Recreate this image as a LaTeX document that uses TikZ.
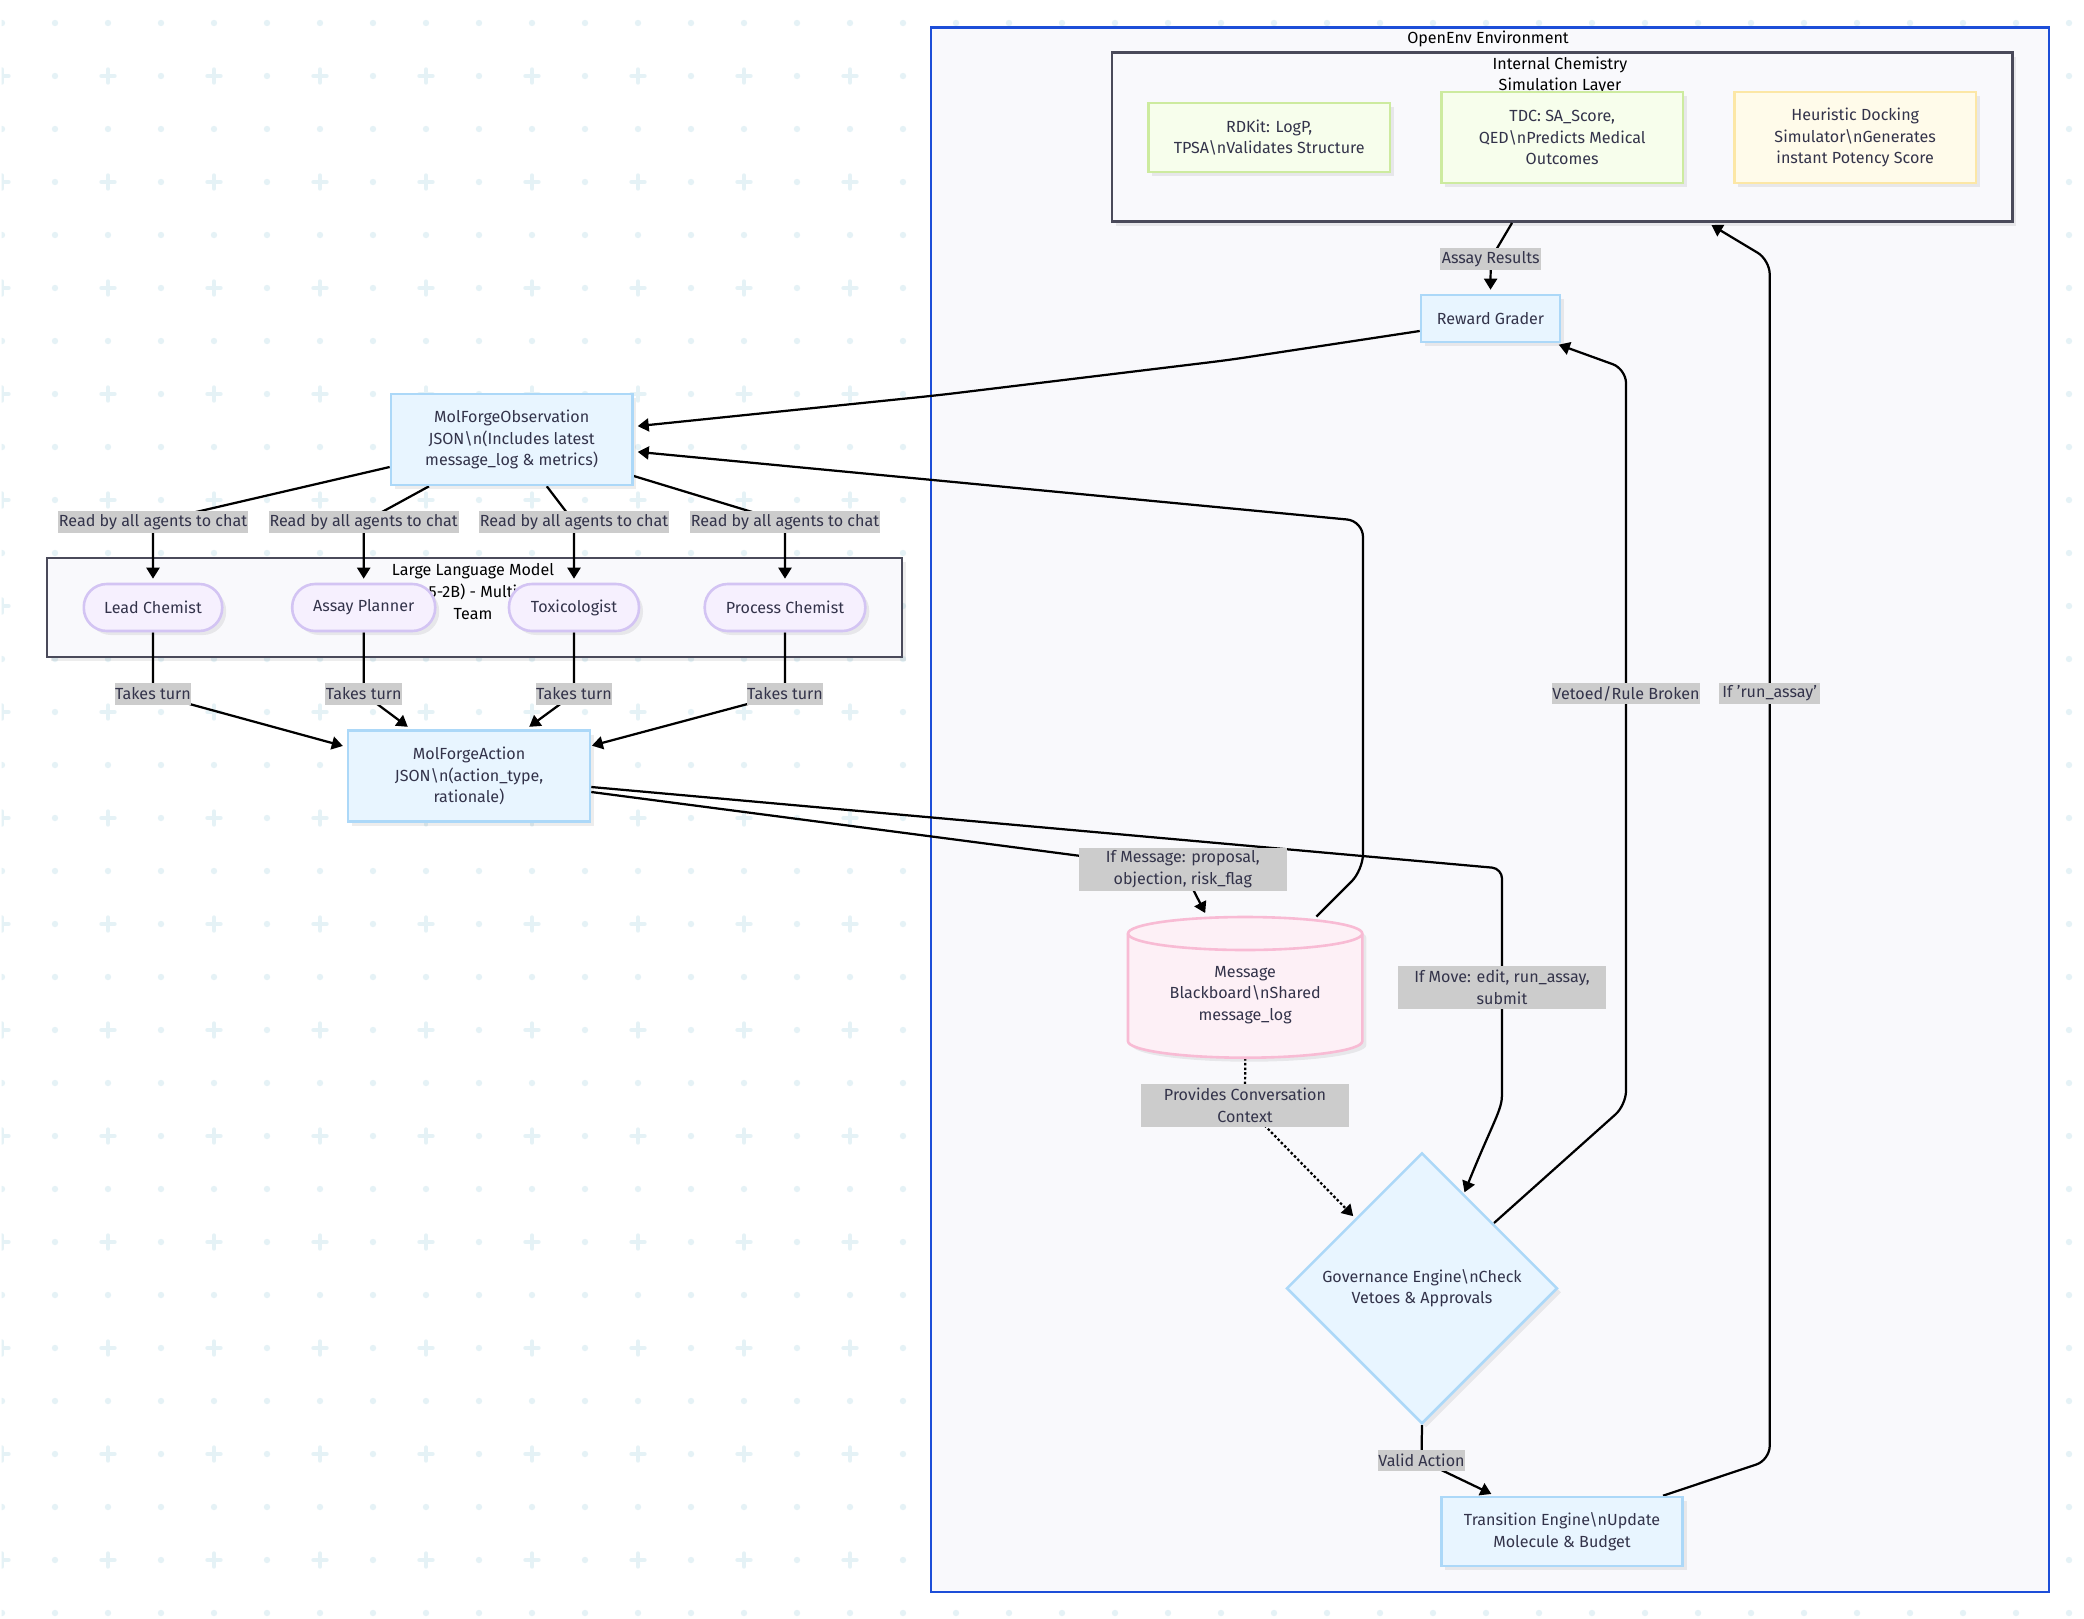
\documentclass[tikz,border=0pt]{standalone}
\usepackage{fontspec}
\setmainfont{Fira Sans}
\usetikzlibrary{arrows.meta,shapes.geometric,shadows,calc}
\pgfdeclarelayer{patternlayer}
\pgfdeclarelayer{clusterlayer}
\pgfdeclarelayer{edgelayer}
\pgfsetlayers{patternlayer,clusterlayer,edgelayer,main}
\definecolor{dotc}{HTML}{E5F2F6}
\definecolor{envb}{HTML}{1D4ED8}
\definecolor{envf}{HTML}{F9F9FC}
\definecolor{clb}{HTML}{4A4A5A}
\definecolor{blueF}{HTML}{E8F5FF}
\definecolor{blueB}{HTML}{ACD8F8}
\definecolor{greenF}{HTML}{F7FEEC}
\definecolor{greenB}{HTML}{CDEB9F}
\definecolor{yelF}{HTML}{FFFBEA}
\definecolor{yelB}{HTML}{FCE7A6}
\definecolor{purF}{HTML}{F6F0FE}
\definecolor{purB}{HTML}{D3C4F3}
\definecolor{pinkF}{HTML}{FDF0F6}
\definecolor{pinkB}{HTML}{F8BBD4}
\definecolor{txt}{HTML}{33334A}
\definecolor{labf}{HTML}{CCCCCC}
\tikzset{
  x=0.5pt,y=-0.5pt,
  every node/.style={font=\fontsize{8.05}{10.9}\selectfont,align=center,inner sep=0pt,text=txt},
  wh/.style 2 args={minimum width=#1*0.5pt,minimum height=#2*0.5pt},
  soft/.style={drop shadow={shadow xshift=2pt,shadow yshift=-2pt,fill=black,opacity=0.07}},
  boxn/.style={draw=blueB,fill=blueF,line width=1.3pt,soft},
  greenn/.style={draw=greenB,fill=greenF,line width=1.3pt,soft},
  yeln/.style={draw=yelB,fill=yelF,line width=1.3pt,soft},
  agent/.style={draw=purB,fill=purF,line width=1.3pt,rounded corners=11.5pt,soft},
  lab/.style={fill=labf},
  titletext/.style={text=black},
  cluster/.style={draw=clb,fill=envf,line width=1.25pt,soft},
  conn/.style={draw=black,line width=1.12pt,shorten >=2pt,-{Triangle[length=5.5pt,width=6.5pt]}},
}
\begin{document}
\begin{tikzpicture}
\useasboundingbox (0,0) rectangle (2084,1618);
\begin{pgfonlayer}{patternlayer}
  \fill[white] (0,0) rectangle (2084,1618);
  \begin{scope}
    \clip (1.7,0) rectangle (2084,1618);
    \foreach \k in {0,...,39}{
      \foreach \j in {0,...,30}{
        \pgfmathtruncatemacro{\isplus}{(mod(\j,2)==1 && mod(\k,2)==0) ? 1 : 0}
        \pgfmathsetmacro{\px}{2+53*\k}
        \pgfmathsetmacro{\py}{23+53*\j}
        \ifnum\isplus=1
          \draw[dotc,line width=2.2pt,line cap=round] (\px-6.5,\py) -- (\px+6.5,\py) (\px,\py-6.5) -- (\px,\py+6.5);
        \else
          \fill[dotc] (\px,\py) circle[radius=1.6pt];
        \fi
      }
    }
  \end{scope}
\end{pgfonlayer}
\begin{pgfonlayer}{clusterlayer}
  \node[draw=envb,fill=envf,line width=1.2pt,wh={1118}{1564.4}] (env) at (1490,809.5) {};
  \node[titletext] (envT) at (1488,38.5) {OpenEnv Environment};
  \node[cluster,wh={900.5}{169}] (chem) at (1562.2,137.2) {};
  \node[titletext] (chemT) at (1560,75.5) {Internal Chemistry\\Simulation Layer};
  \node[cluster,wh={855}{99}] (llm) at (474.5,607.5) {};
  \node[titletext] (llmT) at (473,591.5) {Large Language Model\\5-2B) - Multi\\Team};
\end{pgfonlayer}

% nodes
\node[boxn,wh={241.5}{91}] (obs) at (511.7,439.5) {MolForgeObservation\\JSON\textbackslash n(Includes latest\\message\_log \& metrics)};
\node[boxn,wh={242}{91}] (action) at (469,776) {MolForgeAction\\JSON\textbackslash n(action\_type,\\rationale)};
\node[agent,wh={138.4}{47}] (lead) at (153,607.5) {Lead Chemist};
\node[agent,wh={143}{47}] (assay) at (363.7,607.5) {Assay Planner};
\node[agent,wh={130}{47}] (tox) at (574,607.5) {Toxicologist};
\node[agent,wh={160.6}{47}] (proc) at (785,607.5) {Process Chemist};
\node[greenn,wh={241.7}{69}] (rdkit) at (1269.2,137.5) {RDKit: LogP,\\TPSA\textbackslash nValidates Structure};
\node[greenn,wh={241.6}{91}] (tdc) at (1562.2,137.5) {TDC: SA\_Score,\\QED\textbackslash nPredicts Medical\\Outcomes};
\node[yeln,wh={241.5}{91}] (heur) at (1855.2,137.5) {Heuristic Docking\\Simulator\textbackslash nGenerates\\instant Potency Score};
\node[boxn,wh={139}{47}] (reward) at (1490.5,318.5) {Reward Grader};
\node[boxn,wh={241.4}{69}] (trans) at (1562,1531.5) {Transition Engine\textbackslash nUpdate\\Molecule \& Budget};
\node[boxn,diamond,aspect=1,wh={271}{271}] (gov) at (1422,1288.3) {Governance Engine\textbackslash nCheck\\Vetoes \& Approvals};
% cylinder body
\path[draw=pinkB,fill=pinkF,line width=1.3pt,soft]
  (1128,933.5) -- (1128,1041.2)
  .. controls (1128,1050.3) and (1180.5,1057.7) .. (1245.2,1057.7)
  .. controls (1309.9,1057.7) and (1362.3,1050.3) .. (1362.3,1041.2)
  -- (1362.3,933.5)
  .. controls (1362.3,924.4) and (1309.9,917) .. (1245.2,917)
  .. controls (1180.5,917) and (1128,924.4) .. (1128,933.5) -- cycle;
\draw[pinkB,line width=1.3pt]
  (1128,933.5) .. controls (1128,942.6) and (1180.5,950) .. (1245.2,950)
  .. controls (1309.9,950) and (1362.3,942.6) .. (1362.3,933.5);
\node[wh={234.3}{140.7}] (msg) at (1245.2,987.35) {};
\node (msgT) at (1245.2,995) {Message\\Blackboard\textbackslash nShared\\message\_log};

% edge labels
\node[lab,wh={189.6}{21.7}] (r1) at (153,522) {Read by all agents to chat};
\node[lab,wh={189.6}{21.7}] (r2) at (363.7,522) {Read by all agents to chat};
\node[lab,wh={189.6}{21.7}] (r3) at (574,522) {Read by all agents to chat};
\node[lab,wh={189.6}{21.7}] (r4) at (785,522) {Read by all agents to chat};
\node[lab,wh={76.7}{21.7}] (t1) at (153,694) {Takes turn};
\node[lab,wh={76.7}{21.7}] (t2) at (363.7,694) {Takes turn};
\node[lab,wh={76.7}{21.7}] (t3) at (574,694) {Takes turn};
\node[lab,wh={76.7}{21.7}] (t4) at (785,694) {Takes turn};
\node[lab,wh={101}{21.7}] (assayL) at (1490.7,259) {Assay Results};
\node[lab,wh={207.5}{42.7}] (ifmsg) at (1182.8,869.3) {If Message: proposal,\\objection, risk\_flag};
\node[lab,wh={208}{42.7}] (ifmove) at (1502,987.3) {If Move: edit, run\_assay,\\submit};
\node[lab,wh={208}{42.7}] (prov) at (1245,1105.3) {Provides Conversation\\Context};
\node[lab,wh={144}{21.7}] (veto) at (1626,693.5) {Vetoed/Rule Broken};
\node[lab,wh={101}{21.7}] (ifrun) at (1769.7,693.5) {If 'run\_assay'};
\node[lab,wh={87}{21.7}] (valid) at (1421.5,1460.5) {Valid Action};

\begin{pgfonlayer}{edgelayer}
  \draw[conn] (obs.west |- 0,467) -- (r1.center) -- (lead.north);
  \draw[conn] (429,0 |- obs.south) -- (r2.center) -- (assay.north);
  \draw[conn] (546.8,0 |- obs.south) -- (r3.center) -- (tox.north);
  \draw[conn] (obs.east |- 0,476) -- (r4.center) -- (proc.north);
  \draw[conn] (lead.south) -- (t1.center) -- (action.west |- 0,747);
  \draw[conn] (assay.south) -- (t2.center) -- (411,0 |- action.north);
  \draw[conn] (tox.south) -- (t3.center) -- (526,0 |- action.north);
  \draw[conn] (proc.south) -- (t4.center) -- (588,746.7);
  \draw[conn,rounded corners=8pt] (reward.west |- 0,331) -- (1228.6,360) -- (940,395) -- (obs.east |- 0,426.5);
  \draw[conn,rounded corners=8pt] (1316.4,0 |- msg.north) -- (1363,870) -- (1363,521) -- (obs.east |- 0,451.5);
  \draw[conn] (1512,0 |- chem.south) -- (assayL.center) -- (reward.north);
  \draw[conn] (action.east |- 0,792) -- (ifmsg.center) -- (1207,0 |- msg.north);
  \draw[conn,rounded corners=5pt] (action.east |- 0,787) -- (1502,868.5) -- (ifmove.center) -- (1502,1085)
     .. controls (1502,1110) and (1493,1122) .. (1463,1196);
  \draw[conn,dash pattern=on 1.25pt off 1.1pt] (msg.south) -- (prov.center) -- (1356,1219);
  \draw[conn] (gov.south) -- (valid.center) -- (1495,0 |- trans.north);
  \draw[conn,rounded corners=7pt] (1494,1223) -- (1626,1105) -- (veto.center) -- (1626,369) -- (1555,0 |- reward.south);
  \draw[conn,rounded corners=7pt] (1663,0 |- trans.north) -- (1769.7,1460) -- (ifrun.center) -- (1769.7,260) -- (1708,0 |- chem.south);
\end{pgfonlayer}
\end{tikzpicture}
\end{document}
